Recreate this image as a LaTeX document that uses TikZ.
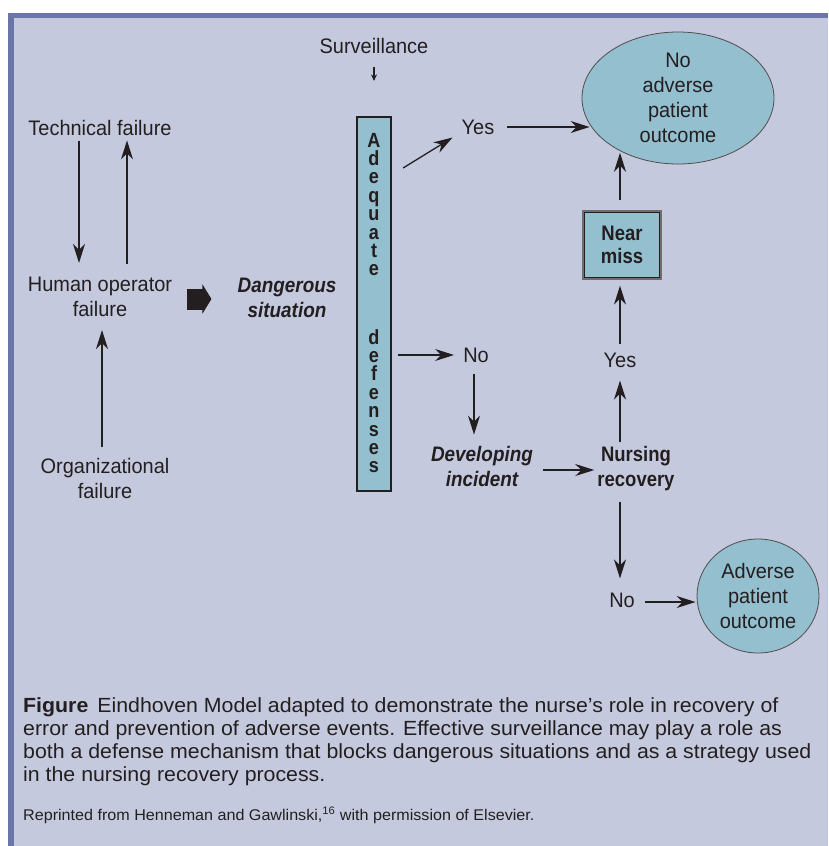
\documentclass[tikz,border=0pt]{standalone}
\usepackage{fontspec}
\setmainfont{Liberation Sans}[FakeStretch=0.95,BoldFeatures={FakeStretch=0.88},BoldItalicFeatures={FakeStretch=0.9}]
\newfontfamily\capfont{Liberation Sans}[FakeStretch=1.04]
\usetikzlibrary{arrows.meta,calc,shapes.geometric}
\definecolor{panel}{HTML}{C5C9DD}
\definecolor{frameblue}{HTML}{6C75A8}
\definecolor{nodeblue}{HTML}{94BFCF}
\definecolor{ink}{HTML}{231F20}
\newcommand\barletter[1]{\hbox to 20pt{\hss#1\hss}}
\begin{document}
\begin{tikzpicture}[x=1pt,y=-1pt,
  lbl/.style={align=center,inner sep=3pt,text=ink,font=\fontsize{21}{25}\selectfont},
  blbl/.style={lbl,font=\fontsize{21}{25}\selectfont\bfseries},
  bilbl/.style={lbl,font=\fontsize{21}{25}\selectfont\bfseries\itshape},
  arr/.style={draw=ink,line width=1.3pt,-{Stealth[length=19pt,width=12pt,inset=6pt]}},
  smallarr/.style={draw=ink,line width=1.2pt,-{Stealth[length=6.5pt,width=6pt]}},
  blockarr/.style={draw=ink,line width=21pt,-{Triangle[length=9pt,width=29pt]}},
  oval/.style={lbl,ellipse,fill=nodeblue,draw=ink!80,line width=0.8pt,inner sep=0pt}
]
\useasboundingbox (0,0) rectangle (828,846);
\fill[white] (0,0) rectangle (828,846);
\fill[panel] (8,13) rectangle (828,846);
\fill[frameblue] (8,13) rectangle (828,18);
\fill[frameblue] (8,13) rectangle (14,846);

% left column
\node[lbl] (tech) at (100,128) {Technical failure};
\node[lbl] (human) at (100,297) {Human operator\\failure};
\node[lbl] (org) at (105,478) {Organizational\\failure};
\node[bilbl] (danger) at (287,298) {Dangerous\\situation};

% defenses bar
\node[lbl] (surv) at (374,46) {Surveillance};
\node[rectangle,fill=nodeblue,draw=ink,line width=2.2pt,minimum width=34pt,minimum height=374pt,inner sep=0pt] (bar) at (374,304) {};
\node[anchor=base,inner sep=0pt,text=ink,font=\fontsize{20.5}{18.4}\selectfont\bfseries] (letters) at (374,147)
 {\vtop{\baselineskip=18.4pt\lineskiplimit=-\maxdimen
 \barletter{A}\barletter{d}\barletter{e}\barletter{q}\barletter{u}\barletter{a}\barletter{t}\barletter{e}
 \vskip 49.8pt
 \barletter{d}\barletter{e}\barletter{f}\barletter{e}\barletter{n}\barletter{s}\barletter{e}\barletter{s}}};

% outcome side
\node[lbl] (yes1) at (478,127) {Yes};
\node[lbl] (no1) at (476,355) {No};
\node[bilbl] (dev) at (482,466) {Developing\\incident};
\node[blbl] (nurse) at (636,469) {Nursing\\recovery};
\node[lbl] (yes2) at (620,360) {Yes};
\node[lbl] (no2) at (622,600) {No};
\node[blbl,font=\fontsize{21}{23}\selectfont\bfseries,rectangle,fill=nodeblue,draw=ink!65,line width=1.3pt,minimum width=78pt,minimum height=68pt,inner sep=0pt] (near) at (622,245) {Near\\miss};
\draw[ink,line width=1pt] ($(near.north west)+(2.5,2.5)$) rectangle ($(near.south east)+(-2.5,-2.5)$);
\node[oval,minimum width=192pt,minimum height=132pt] (ell1) at (678,98) {No\\adverse\\patient\\outcome};
\node[oval,minimum width=122pt,minimum height=114pt] (ell2) at (758,596) {Adverse\\patient\\outcome};
\coordinate (colR) at (620,0);

% connectors
\draw[arr] ($(tech.south)+(-21,2)$) -- ($(human.north)+(-21,-11)$);
\draw[arr] ($(human.north)+(27,-10)$) -- ($(tech.south)+(27,1.5)$);
\draw[arr] ($(org.north)+(-3,-8)$) -- ($(human.south)+(2,10)$);
\draw[blockarr] ($(human.east)+(12,2)$) -- ($(danger.west)+(-23,1)$);
\draw[smallarr] ($(surv.south)+(0,10)$) -- ($(surv.south |- bar.north)+(0,-35)$);
\draw[arr] ($(bar.east)+(11,-136)$) -- ($(yes1.south west)+(-6,0)$);
\draw[arr] ($(yes1.east)+(10,0)$) -- ($(yes1.east -| ell1.west)+(8,0)$);
\draw[arr] ($(bar.east |- no1)+(6,0)$) -- ($(no1.west)+(-6,0)$);
\draw[arr] ($(no1.south)+(-2,8)$) -- ($(no1.south |- dev.north)+(-2,-8)$);
\draw[arr] ($(dev.east)+(7,4)$) -- ($(dev.east -| nurse.west)+(0,4)$);
\draw[arr] ($(nurse.north -| colR)+(0,-2)$) -- ($(yes2.south -| colR)+(0,10)$);
\draw[arr] ($(yes2.north -| colR)+(0,-5)$) -- ($(near.south -| colR)+(0,6)$);
\draw[arr] ($(near.north -| colR)+(0,-10)$) -- ($(ell1.222 -| colR)+(0,2)$);
\draw[arr] ($(nurse.south -| colR)+(0,8)$) -- ($(no2.north -| colR)+(0,-11)$);
\draw[arr] ($(no2.east)+(7,2)$) -- ($(no2.east -| ell2.west)+(-1,2)$);

% caption
\node[anchor=base west,inner sep=0pt,text=ink,font=\capfont\fontsize{20.5}{23.3}\selectfont] (cap) at (23,712)
 {\vtop{\baselineskip=23.3pt\lineskiplimit=-\maxdimen
 \hbox{\textbf{Figure}\hspace{9pt}Eindhoven Model adapted to demonstrate the nurse’s role in recovery of}
 \hbox{error and prevention of adverse events. Effective surveillance may play a role as}
 \hbox{both a defense mechanism that blocks dangerous situations and as a strategy used}
 \hbox{in the nursing recovery process.}}};
\node[anchor=base west,inner sep=0pt,text=ink,font=\capfont\fontsize{15.5}{18}\selectfont] (reprint) at (23,820)
 {Reprinted from Henneman and Gawlinski,\textsuperscript{16} with permission of Elsevier.};
\end{tikzpicture}
\end{document}
